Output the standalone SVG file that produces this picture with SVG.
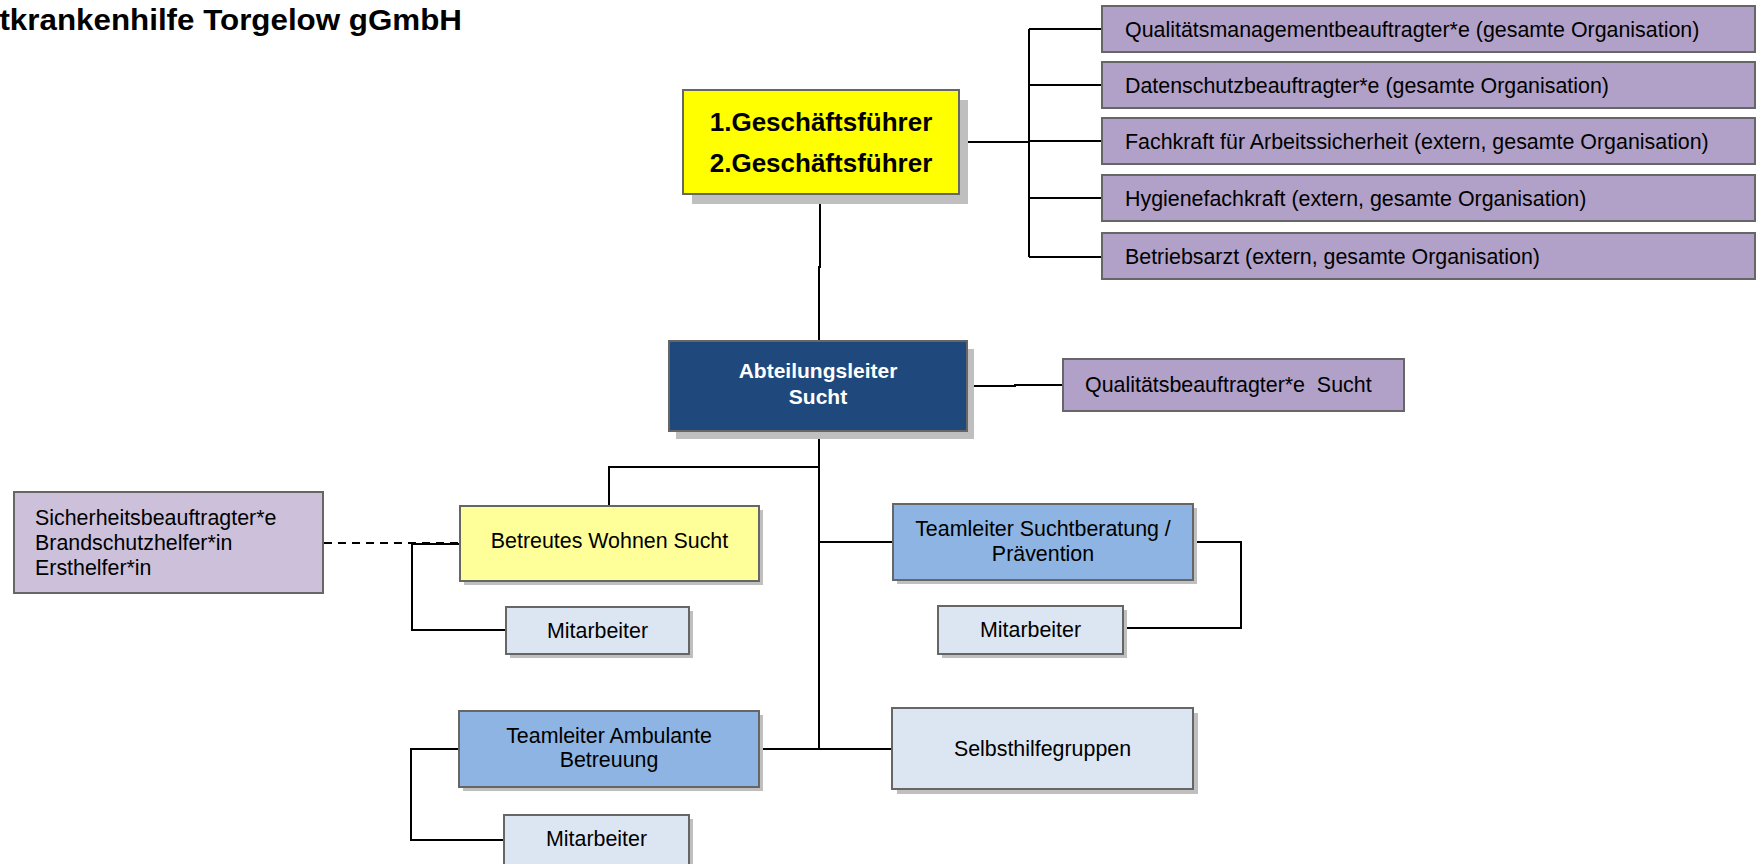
<svg xmlns="http://www.w3.org/2000/svg" width="1758" height="864" viewBox="0 0 1758 864">
<style>
text{font-family:"Liberation Sans",Arial,Helvetica,sans-serif;fill:#000}
.box{stroke:#666;stroke-width:2}
.sh{fill:#bfbfbf}
.t{font-size:21.4px}
.c{text-anchor:middle}
.b{font-weight:bold}
.ln{fill:none;stroke:#000;stroke-width:2}
.dash{fill:none;stroke:#000;stroke-width:2;stroke-dasharray:8 6}
.purple{fill:#B1A0C7}
.lilac{fill:#CCC0DA}
.pale{fill:#DCE6F2}
.mid{fill:#8DB4E2}
</style>
<rect width="1758" height="864" fill="#fff"/>
<text x="-18" y="30" font-size="29.5" class="b" textLength="480" lengthAdjust="spacingAndGlyphs">atkrankenhilfe Torgelow gGmbH</text>

<g id="connectors">
<path class="ln" d="M959,142 H1029 M1029,29 V257 M1029,29 H1102 M1029,85 H1102 M1029,141 H1102 M1029,198 H1102 M1029,257 H1102"/>
<path class="ln" d="M820,194 V267 H819 V341 M819,431 V749"/>
<path class="ln" d="M967,386 H1015 V385 H1063"/>
<path class="ln" d="M819,467 H609 V506"/>
<path class="dash" d="M324,543 H460"/>
<path class="ln" d="M460,544 H412 V630 H506"/>
<path class="ln" d="M819,542 H893 M1193,542 H1241 V628 H1123"/>
<path class="ln" d="M759,749 H892 M459,749 H411 V840 H505"/>
</g>

<g id="gf">
<rect class="sh" x="692" y="100" width="276" height="104"/>
<rect class="box" x="683" y="90" width="276" height="104" fill="#FFFF00"/>
<text class="c b" x="821" y="131" font-size="26">1.Geschäftsführer</text>
<text class="c b" x="821" y="172" font-size="26">2.Geschäftsführer</text>
</g>

<g id="qmb">
<rect class="box purple" x="1102" y="6" width="653" height="46"/>
<text class="t" x="1125" y="36.5">Qualitätsmanagementbeauftragter*e (gesamte Organisation)</text>
</g>
<g id="dsb">
<rect class="box purple" x="1102" y="62" width="653" height="46"/>
<text class="t" x="1125" y="92.5">Datenschutzbeauftragter*e (gesamte Organisation)</text>
</g>
<g id="fasi">
<rect class="box purple" x="1102" y="118" width="653" height="46"/>
<text class="t" x="1125" y="148.5">Fachkraft für Arbeitssicherheit (extern, gesamte Organisation)</text>
</g>
<g id="hyg">
<rect class="box purple" x="1102" y="175" width="653" height="46"/>
<text class="t" x="1125" y="205.5">Hygienefachkraft (extern, gesamte Organisation)</text>
</g>
<g id="arzt">
<rect class="box purple" x="1102" y="233" width="653" height="46"/>
<text class="t" x="1125" y="263.5">Betriebsarzt (extern, gesamte Organisation)</text>
</g>

<g id="al">
<rect class="sh" x="676" y="349" width="298" height="90"/>
<rect class="box" x="669" y="341" width="298" height="90" fill="#1F497D"/>
<text class="c b" x="818" y="378" font-size="21" style="fill:#fff">Abteilungsleiter</text>
<text class="c b" x="818" y="404" font-size="21" style="fill:#fff">Sucht</text>
</g>

<g id="qbs">
<rect class="box purple" x="1063" y="359" width="341" height="52"/>
<text class="t" x="1085" y="392" xml:space="preserve">Qualitätsbeauftragter*e  Sucht</text>
</g>

<g id="sich">
<rect class="box lilac" x="14" y="492" width="309" height="101"/>
<text class="t" x="35" y="525">Sicherheitsbeauftragter*e</text>
<text class="t" x="35" y="550">Brandschutzhelfer*in</text>
<text class="t" x="35" y="575">Ersthelfer*in</text>
</g>

<g id="bw">
<rect class="sh" x="464" y="510" width="299" height="75"/>
<rect class="box" x="460" y="506" width="299" height="75" fill="#FFFF99"/>
<text class="t c" x="609.5" y="548">Betreutes Wohnen Sucht</text>
</g>

<g id="ma1">
<rect class="sh" x="510" y="611" width="183" height="47"/>
<rect class="box pale" x="506" y="607" width="183" height="47"/>
<text class="t c" x="597.5" y="638">Mitarbeiter</text>
</g>

<g id="ts">
<rect class="sh" x="897" y="508" width="300" height="76"/>
<rect class="box mid" x="893" y="504" width="300" height="76"/>
<text class="t c" x="1043" y="536">Teamleiter Suchtberatung /</text>
<text class="t c" x="1043" y="561">Prävention</text>
</g>

<g id="ma2">
<rect class="sh" x="942" y="610" width="185" height="48"/>
<rect class="box pale" x="938" y="606" width="185" height="48"/>
<text class="t c" x="1030.5" y="637">Mitarbeiter</text>
</g>

<g id="amb">
<rect class="sh" x="463" y="715" width="300" height="76"/>
<rect class="box mid" x="459" y="711" width="300" height="76"/>
<text class="t c" x="609" y="743">Teamleiter Ambulante</text>
<text class="t c" x="609" y="767">Betreuung</text>
</g>

<g id="shg">
<rect class="sh" x="897" y="713" width="301" height="81"/>
<rect class="box pale" x="892" y="708" width="301" height="81"/>
<text class="t c" x="1042.5" y="756">Selbsthilfegruppen</text>
</g>

<g id="ma3">
<rect class="sh" x="508" y="819" width="185" height="56"/>
<rect class="box pale" x="504" y="815" width="185" height="56"/>
<text class="t c" x="596.5" y="846">Mitarbeiter</text>
</g>
</svg>
